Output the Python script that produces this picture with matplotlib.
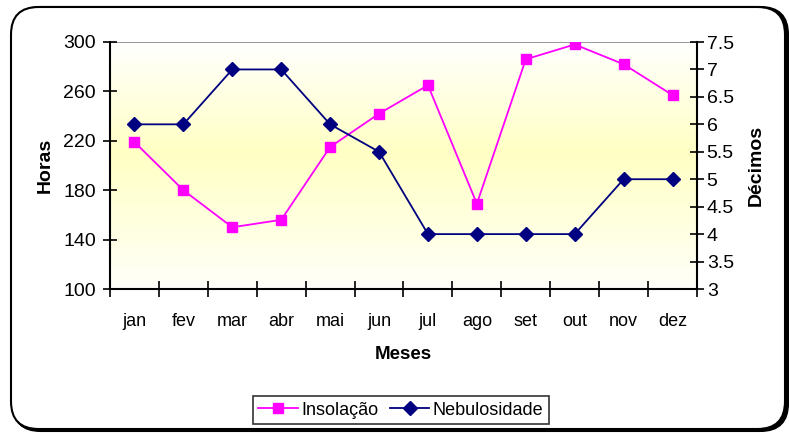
import numpy as np
import matplotlib.pyplot as plt
from matplotlib.patches import FancyBboxPatch
from matplotlib.colors import LinearSegmentedColormap
from matplotlib.lines import Line2D

plt.rcParams['font.family'] = ['Liberation Sans', 'DejaVu Sans']

meses = ['jan', 'fev', 'mar', 'abr', 'mai', 'jun', 'jul', 'ago', 'set', 'out', 'nov', 'dez']
insolacao = [219, 180, 150, 156, 215, 242, 265, 169, 286, 298, 282, 257]
nebulosidade = [6, 6, 7, 7, 6, 5.5, 4, 4, 4, 4, 5, 5]
horas_ticks = [100, 140, 180, 220, 260, 300]
decimos_ticks = [3, 3.5, 4, 4.5, 5, 5.5, 6, 6.5, 7, 7.5]

W, H = 789, 436
fig = plt.figure(figsize=(W / 100, H / 100), dpi=100)

# rounded chart frame with shadow
shadow = FancyBboxPatch((13 / W, 5 / H), 775 / W, 424 / H,
                        boxstyle="round,pad=0,rounding_size=0.035",
                        transform=fig.transFigure, facecolor='black',
                        edgecolor='black', lw=1.5, mutation_aspect=W / H, zorder=-2)
frame = FancyBboxPatch((11 / W, 7 / H), 774 / W, 422 / H,
                       boxstyle="round,pad=0,rounding_size=0.035",
                       transform=fig.transFigure, facecolor='white',
                       edgecolor='black', lw=1.5, mutation_aspect=W / H, zorder=-1)
fig.patches.extend([shadow, frame])

left, right, top, bottom = 110, 697, 42, 289
ax = fig.add_axes([left / W, 1 - bottom / H, (right - left) / W, (bottom - top) / H])
ax.patch.set_alpha(0)

x = np.arange(len(meses))

# gradient background: white -> pale yellow -> white
cmap = LinearSegmentedColormap.from_list('bg', [(0, '#FFFFFA'), (0.55, '#FFFFC4'), (1, '#FFFFFF')])
grad = np.linspace(0, 1, 256).reshape(-1, 1)
ax.imshow(grad, extent=[-0.5, 11.5, 100, 300], aspect='auto', cmap=cmap, origin='lower', zorder=0)

ax.plot(x, insolacao, color='#FF00FF', lw=1.3, marker='s', ms=7.5, zorder=3)
ax.set_xlim(-0.5, 11.5)
ax.set_ylim(100, 300)
ax.set_yticks(horas_ticks)
ax.set_xticks(np.arange(-0.5, 12, 1))
ax.set_xticklabels([])
ax.set_xticks(x, minor=True)
ax.set_xticklabels(meses, minor=True)
ax.tick_params(axis='x', which='major', direction='inout', length=11, width=1.2)
ax.tick_params(axis='x', which='minor', length=0, pad=17, labelsize=13)
ax.tick_params(axis='y', direction='inout', length=10, width=1.2, labelsize=14, pad=5)
ax.axhline(300, color='#888888', lw=1.2, zorder=1)

for s in ['top', 'right']:
    ax.spines[s].set_visible(False)
ax.spines['left'].set_linewidth(1.5)
ax.spines['bottom'].set_linewidth(1.5)

ax2 = ax.twinx()
ax2.plot(x, nebulosidade, color='#000080', lw=1.3, marker='D', ms=7, zorder=3)
ax2.set_ylim(3, 7.5)
ax2.set_yticks(decimos_ticks)
ax2.set_yticklabels(['3', '3.5', '4', '4.5', '5', '5.5', '6', '6.5', '7', '7.5'])
ax2.tick_params(axis='y', direction='inout', length=10, width=1.2, labelsize=14, pad=2)
for s in ['top', 'left', 'bottom']:
    ax2.spines[s].set_visible(False)
ax2.spines['right'].set_linewidth(1.5)

ax.set_ylabel('Horas', fontsize=14, fontweight='bold', labelpad=7)
ax2.set_ylabel('Décimos', fontsize=14, fontweight='bold', labelpad=10)
ax.set_xlabel('Meses', fontsize=13.5, fontweight='bold', labelpad=12)

handles = [Line2D([], [], color='#FF00FF', lw=1.3, marker='s', ms=7.5),
           Line2D([], [], color='#000080', lw=1.3, marker='D', ms=7)]
leg = fig.legend(handles, ['Insolação', 'Nebulosidade'], loc='center',
                 bbox_to_anchor=(401 / W, 1 - 410 / H), ncol=2, fontsize=13,
                 frameon=True, fancybox=False, handlelength=2.2, handletextpad=0.2,
                 columnspacing=0.6, borderpad=0.3, borderaxespad=0)
leg.get_frame().set_edgecolor('black')
leg.get_frame().set_linewidth(1.2)

fig.savefig('out.png', dpi=100)
